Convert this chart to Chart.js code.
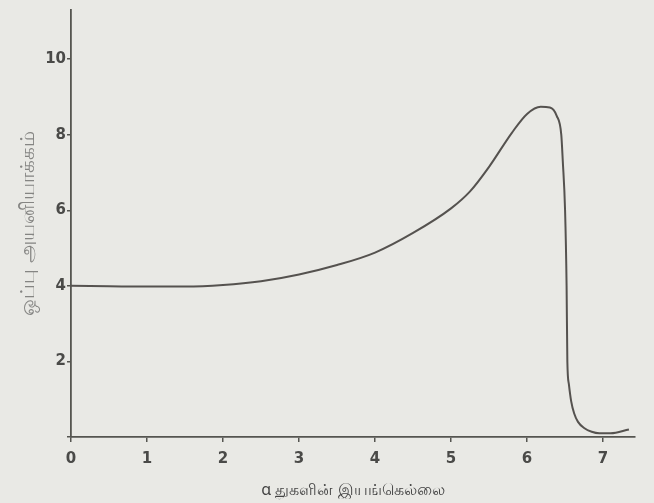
<!DOCTYPE html>
<html>
<head>
<meta charset="utf-8">
<script src="https://cdn.jsdelivr.net/npm/chart.js@4.4.1/dist/chart.umd.min.js"></script>
<style>
  html, body { margin: 0; padding: 0; background: #e9e9e5; }
  #wrap { width: 654px; height: 503px; position: relative; }
</style>
</head>
<body>
<div id="wrap"><canvas id="c" width="654" height="503"></canvas></div>
<script>
// Range of alpha particle (x) vs relative ionization (y) — Bragg curve
const rangeValues = [0, 0.5, 1.0, 1.5, 2.0, 2.5, 3.0, 3.5, 4.0, 4.5, 5.0, 5.25, 5.5, 5.8, 6.0, 6.18, 6.3, 6.39, 6.45, 6.47, 6.5, 6.52, 6.53, 6.55, 6.58, 6.62, 6.67, 6.75, 6.85, 6.95, 7.1, 7.34];
const ionizationValues = [4.0, 3.99, 3.98, 3.98, 4.02, 4.12, 4.3, 4.55, 4.88, 5.4, 6.05, 6.5, 7.15, 8.05, 8.55, 8.74, 8.72, 8.5, 8.0, 7.3, 6.0, 4.0, 2.0, 1.4, 0.95, 0.62, 0.4, 0.24, 0.14, 0.1, 0.1, 0.2];
const xTickLabels = ['0', '1', '2', '3', '4', '5', '6', '7'];
const yTickLabels = ['', '2', '4', '6', '8', '10'];
const xTitle = 'α துகளின் இயங்கெல்லை';
const yTitle = 'ஒப்பு அயனியாக்கம்';

const points = rangeValues.map((x, i) => ({ x: x, y: ionizationValues[i] }));
const axisColor = '#555550';
const textFont = { family: "'DejaVu Sans', 'Noto Sans', sans-serif", size: 15, weight: 'bold' };

new Chart(document.getElementById('c'), {
  type: 'scatter',
  data: {
    datasets: [{
      data: points,
      showLine: true,
      borderColor: '#55524f',
      borderWidth: 2,
      pointRadius: 0,
      cubicInterpolationMode: 'monotone',
      fill: false
    }]
  },
  options: {
    responsive: false,
    animation: false,
    layout: { padding: { top: 8, right: 19, left: 0, bottom: 0 } },
    plugins: { legend: { display: false }, tooltip: { enabled: false } },
    scales: {
      x: {
        type: 'linear',
        min: 0,
        max: 7.42,
        afterBuildTicks: s => { s.ticks = s.ticks.filter(t => Number.isInteger(t.value)); },
        afterFit: s => { s.height = 66; },
        ticks: {
          stepSize: 1,
          includeBounds: false,
          autoSkip: false,
          color: '#4a4a48',
          font: textFont,
          padding: 8,
          callback: (v) => xTickLabels[v] !== undefined ? xTickLabels[v] : ''
        },
        grid: { display: true, drawOnChartArea: false, drawTicks: true, tickLength: 5, color: axisColor, lineWidth: 1.5 },
        border: { display: true, color: axisColor, width: 1.8 },
        title: {
          display: true,
          text: xTitle,
          color: '#444',
          font: { family: "'Noto Sans', 'DejaVu Sans', sans-serif", size: 16 },
          padding: { top: 0, bottom: 3 }
        }
      },
      y: {
        type: 'linear',
        min: 0,
        max: 11.3,
        afterBuildTicks: s => { s.ticks = s.ticks.filter(t => Number.isInteger(t.value)); },
        afterFit: s => { s.width = 71; },
        ticks: {
          stepSize: 2,
          includeBounds: false,
          color: '#4a4a48',
          font: textFont,
          padding: 1,
          callback: (v) => { const i = v / 2; return yTickLabels[i] !== undefined ? yTickLabels[i] : ''; }
        },
        grid: { display: true, drawOnChartArea: false, drawTicks: true, tickLength: 4, color: axisColor, lineWidth: 1.5 },
        border: { display: true, color: axisColor, width: 1.8 },
        title: {
          display: true,
          text: yTitle,
          color: '#858583',
          font: { family: "'Noto Sans', 'DejaVu Sans', sans-serif", size: 20 },
          padding: { top: 16, bottom: 4 }
        }
      }
    }
  }
});
</script>
</body>
</html>
